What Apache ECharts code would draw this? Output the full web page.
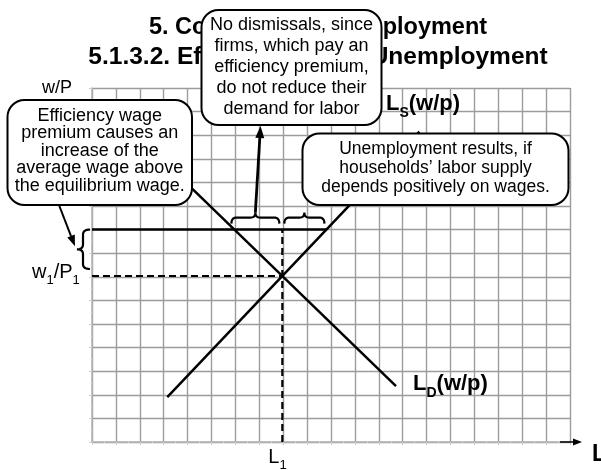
<!DOCTYPE html>
<html>
<head>
<meta charset="utf-8">
<script src="https://cdn.jsdelivr.net/npm/echarts@6/dist/echarts.min.js"></script>
<style>
  html, body { margin: 0; padding: 0; background: #fff; }
  #chart { width: 601px; height: 470px; }
</style>
</head>
<body>
<div id="chart"></div>
<script>
var FONT = '"Liberation Sans", Arial, Helvetica, sans-serif';

// grid paper: 20 columns x 15 rows
var xMax = 20;
var yMax = 15;

// curves (L, w/P)
var supplyLine = [[3.15, 1.9], [13.7, 13.15]];   // L_S(w/p)
var demandLine = [[12.72, 2.37], [3.0, 11.9]];   // L_D(w/p)
var effWage = 9;                                 // wage incl. efficiency premium

var titleLines = ['5. Concepts of Unemployment', '5.1.3.2. Efficiency Wage Unemployment'];
var noteWage = ['Efficiency wage', 'premium causes an', 'increase of the', 'average wage above', 'the equilibrium wage.'];
var noteFirms = ['No dismissals, since', 'firms, which pay an', 'efficiency premium,', 'do not reduce their', 'demand for labor'];
var noteHouse = ['Unemployment results, if', 'households\u2019 labor supply', 'depends positively on wages.'];

function slope(l) { return (l[1][1] - l[0][1]) / (l[1][0] - l[0][0]); }
function xAtY(l, y) { return l[0][0] + (y - l[0][1]) / slope(l); }

// equilibrium = intersection of supply and demand
var sS = slope(supplyLine), sD = slope(demandLine);
var eqL = (demandLine[0][1] - supplyLine[0][1] + sS * supplyLine[0][0] - sD * demandLine[0][0]) / (sS - sD);
var eqW = supplyLine[0][1] + sS * (eqL - supplyLine[0][0]);
var xDemEff = xAtY(demandLine, effWage);
var xSupEff = xAtY(supplyLine, effWage);

var chart = echarts.init(document.getElementById('chart'));

function lineSeries(data, width, dashed) {
  return {
    type: 'line', data: data, symbol: 'none', silent: true, clip: false, z: 3,
    lineStyle: { color: '#000', width: width, type: dashed ? [7, 4] : 'solid' }
  };
}

var gridColor = '#9c9c9c';
function axis(max) {
  return {
    type: 'value', min: 0, max: max, interval: 1,
    axisLabel: { show: false },
    axisLine: { lineStyle: { color: '#b4b4b4', width: 1.5 } },
    axisTick: { show: true, length: 3, lineStyle: { color: '#cfcfcf' } },
    minorTick: { show: true, splitNumber: 2, length: 2, lineStyle: { color: '#e2e2e2' } },
    splitLine: { lineStyle: { color: gridColor, width: 1.4 } }
  };
}

chart.setOption({
  animation: false,
  grid: { left: 92, top: 88, width: 478, height: 354 },
  xAxis: axis(xMax),
  yAxis: axis(yMax),
  series: [
    lineSeries(supplyLine, 2.5),
    lineSeries(demandLine, 2.5),
    lineSeries([[0, effWage], [xSupEff, effWage]], 2.5),
    lineSeries([[0, eqW], [eqL, eqW]], 2.2, true),
    lineSeries([[eqL, 0], [eqL, effWage]], 2.2, true)
  ]
});

function px(x, y) { return chart.convertToPixel({ gridIndex: 0 }, [x, y]); }

var g = [];

function txt(x, y, text, size, bold, align, z) {
  return {
    type: 'text', x: x, y: y, z: z || 5,
    style: { text: text, fill: '#000', font: (bold ? 'bold ' : '') + size + 'px ' + FONT,
      align: align || 'left', verticalAlign: 'middle' }
  };
}
// label with subscripts: parts = [[text, isSub], ...]
function subTxt(x, y, parts, size, subSize, bold) {
  var w = bold ? 'bold' : 'normal';
  return {
    type: 'text', x: x, y: y, z: 5,
    style: {
      text: parts.map(function (p) { return '{' + (p[1] ? 's' : 'm') + '|' + p[0] + '}'; }).join(''),
      align: 'left', verticalAlign: 'bottom',
      rich: {
        m: { fontSize: size, fontWeight: w, fontFamily: FONT, fill: '#000', verticalAlign: 'bottom', padding: [0, 0, 5, 0] },
        s: { fontSize: subSize, fontWeight: w, fontFamily: FONT, fill: '#000', verticalAlign: 'bottom' }
      }
    }
  };
}
function box(x1, y1, x2, y2, lines, size, lh, dy) {
  return [
    { type: 'rect', z: 50, shape: { x: x1, y: y1, width: x2 - x1, height: y2 - y1, r: 17 },
      style: { fill: '#fff', stroke: '#000', lineWidth: 2 } },
    { type: 'text', z: 51, x: (x1 + x2) / 2, y: (y1 + y2) / 2 + dy,
      style: { text: lines.join('\n'), fill: '#000', font: size + 'px ' + FONT, lineHeight: lh,
        align: 'center', verticalAlign: 'middle' } }
  ];
}
function arrow(x1, y1, x2, y2, w, hl, hw) {
  var a = Math.atan2(y2 - y1, x2 - x1), c = Math.cos(a), s = Math.sin(a);
  var bx = x2 - c * hl, by = y2 - s * hl;
  return [
    { type: 'line', z: 6, shape: { x1: x1, y1: y1, x2: bx, y2: by }, style: { stroke: '#000', lineWidth: w } },
    { type: 'polygon', z: 6, shape: { points: [[x2, y2], [bx - s * hw / 2, by + c * hw / 2], [bx + s * hw / 2, by - c * hw / 2]] },
      style: { fill: '#000' } }
  ];
}
// quadratic curve sampled into points
function quad(p0, c, p1) {
  var pts = [];
  for (var i = 1; i <= 8; i++) {
    var t = i / 8, u = 1 - t;
    pts.push([u * u * p0[0] + 2 * u * t * c[0] + t * t * p1[0], u * u * p0[1] + 2 * u * t * c[1] + t * t * p1[1]]);
  }
  return pts;
}
function hBrace(xa, xb, y0, ybar, yt) {
  var xm = (xa + xb) / 2, q = 5;
  var pts = [[xa, y0]];
  pts = pts.concat(quad([xa, y0], [xa, ybar], [xa + q, ybar]));
  pts.push([xm - q, ybar]);
  pts = pts.concat(quad([xm - q, ybar], [xm, ybar], [xm, yt]));
  pts = pts.concat(quad([xm, yt], [xm, ybar], [xm + q, ybar]));
  pts.push([xb - q, ybar]);
  pts = pts.concat(quad([xb - q, ybar], [xb, ybar], [xb, y0]));
  return { type: 'polyline', z: 6, shape: { points: pts }, style: { stroke: '#000', lineWidth: 2.2, fill: null } };
}
function vBrace(ya, yb, x0, xbar, xt) {
  var ym = (ya + yb) / 2, q = 5;
  var pts = [[x0, ya]];
  pts = pts.concat(quad([x0, ya], [xbar, ya], [xbar, ya + q]));
  pts.push([xbar, ym - q]);
  pts = pts.concat(quad([xbar, ym - q], [xbar, ym], [xt, ym]));
  pts = pts.concat(quad([xt, ym], [xbar, ym], [xbar, ym + q]));
  pts.push([xbar, yb - q]);
  pts = pts.concat(quad([xbar, yb - q], [xbar, yb], [x0, yb]));
  return { type: 'polyline', z: 6, shape: { points: pts }, style: { stroke: '#000', lineWidth: 2.2, fill: null } };
}

var o = px(0, 0), top = px(0, yMax), right = px(xMax, 0);
var pEq = px(eqL, eqW), pDem = px(xDemEff, effWage), pSup = px(xSupEff, effWage);

// title (partly hidden behind the note box)
g.push(txt(318, 28, titleLines[0], 23.5, true, 'center', 1));
g.push(txt(318, 57.5, titleLines[1], 24.5, true, 'center', 1));

// axis arrows and labels
g = g.concat(arrow(o[0] + 1, top[1], o[0] + 1, top[1] - 10, 1.5, 8, 6));
g = g.concat(arrow(right[0] - 10, o[1], right[0] + 12, o[1], 1.5, 9, 7));
g.push(txt(72, 88, 'w/P', 18, false, 'right'));
g.push(txt(592, 455, 'L', 23, true, 'left'));
g.push(subTxt(32, pEq[1] + 11, [['w', 0], ['1', 1], ['/P', 0], ['1', 1]], 20, 13, false));
g.push(subTxt(pEq[0] - 14, o[1] + 30, [['L', 0], ['1', 1]], 20, 13, false));
g.push(subTxt(386, 120, [['L', 0], ['S', 1], ['(w/p)', 0]], 22, 14, true));
g.push(subTxt(413, 400, [['L', 0], ['D', 1], ['(w/p)', 0]], 22, 14, true));

// braces
var yBar = pSup[1];
g.push(hBrace(pDem[0] - 3, pEq[0] - 3, yBar - 6, yBar - 12, yBar - 17));
g.push(hBrace(pEq[0] + 2, pSup[0] - 2, yBar - 6, yBar - 12, yBar - 17));
g.push(vBrace(yBar, pEq[1] - 7, o[0] - 2, o[0] - 9, o[0] - 15));

// callout arrows
var tip1 = [(pDem[0] + pEq[0]) / 2 - 3, yBar - 17];
g = g.concat(arrow(tip1[0], tip1[1], 260.5, 126, 2.8, 12, 9));
g = g.concat(arrow(59, 205, o[0] - 17, (yBar + pEq[1] - 7) / 2 - 3, 2, 11, 8));

// note boxes
g = g.concat(box(7.5, 100, 192, 205, noteWage, 18, 17.5, -1.5));
g = g.concat(box(201.5, 10, 381.5, 125, noteFirms, 18, 21, 0));
g = g.concat(box(302.5, 133.5, 568.5, 205, noteHouse, 17.5, 19, -1.5));

chart.setOption({ graphic: g });
</script>
</body>
</html>
